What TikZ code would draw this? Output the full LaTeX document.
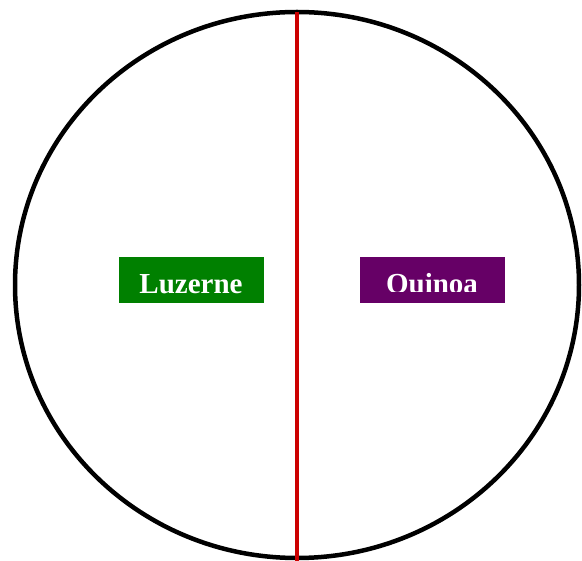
\documentclass[tikz,border=0pt]{standalone}
\usepackage{fontspec}
\setmainfont{Liberation Serif}
\definecolor{luzgreen}{HTML}{008000}
\definecolor{quipurple}{HTML}{660066}
\definecolor{divred}{HTML}{CC0000}
\begin{document}
\begin{tikzpicture}[x=1pt,y=-1pt,
  labelbox/.style={minimum width=145pt,minimum height=46pt,inner sep=0pt},
  labeltext/.style={text=white,font=\fontsize{29}{29}\selectfont\bfseries,anchor=base,inner sep=0pt}]
\useasboundingbox (0,0) rectangle (582,561);
\begin{scope}
\clip (0,0) rectangle (582,561);
\draw[line width=4.5pt] (297,285) ellipse [x radius=282, y radius=273];
\end{scope}
\coordinate (top) at (297,12);
\coordinate (bot) at (297,561);
\draw[divred,line width=4.5pt] (top) -- (bot);
\node[labelbox,fill=luzgreen] (lbox) at (191.5,280) {};
\node[labeltext] (ltext) at (191,294) {Luzerne};
\node[labelbox,fill=quipurple] (qbox) at (432.5,280) {};
\begin{scope}
\clip (360,257) rectangle (505,292);
\node[labeltext] (qtext) at (432,294) {Quinoa};
\end{scope}
\end{tikzpicture}
\end{document}
